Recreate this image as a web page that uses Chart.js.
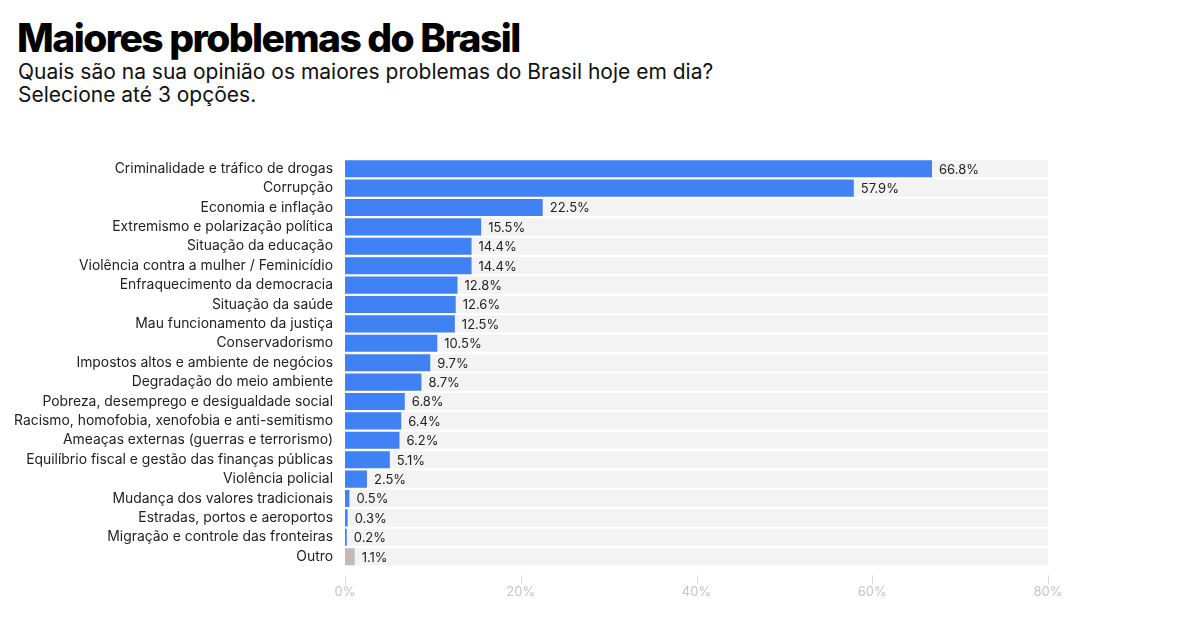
<!DOCTYPE html>
<html lang="pt-BR">
<head>
<meta charset="utf-8">
<title>Maiores problemas do Brasil</title>
<script src="https://cdn.jsdelivr.net/npm/chart.js@4"></script>
<style>
    html, body { margin: 0; padding: 0; background: #fff; }
    #wrap { position: relative; width: 1200px; height: 621px; overflow: hidden; font-family: Inter, sans-serif; }
    #title { position: absolute; left: 17px; top: 15px; font-size: 39px; font-weight: 800; letter-spacing: -1.55px; color: #000; line-height: 46px; }
    #subtitle { position: absolute; left: 18px; top: 60px; font-size: 21px; color: #111; line-height: 23px; }
    #chart { position: absolute; left: 0; top: 0; }
</style>
</head>
<body>
<div id="wrap">
    <div id="title">Maiores problemas do Brasil</div>
    <div id="subtitle">Quais são na sua opinião os maiores problemas do Brasil hoje em dia?<br>Selecione até 3 opções.</div>
    <canvas id="chart" width="1200" height="621"></canvas>
</div>
<script>
const categories = [
    'Criminalidade e tráfico de drogas',
    'Corrupção',
    'Economia e inflação',
    'Extremismo e polarização política',
    'Situação da educação',
    'Violência contra a mulher / Feminicídio',
    'Enfraquecimento da democracia',
    'Situação da saúde',
    'Mau funcionamento da justiça',
    'Conservadorismo',
    'Impostos altos e ambiente de negócios',
    'Degradação do meio ambiente',
    'Pobreza, desemprego e desigualdade social',
    'Racismo, homofobia, xenofobia e anti-semitismo',
    'Ameaças externas (guerras e terrorismo)',
    'Equilíbrio fiscal e gestão das finanças públicas',
    'Violência policial',
    'Mudança dos valores tradicionais',
    'Estradas, portos e aeroportos',
    'Migração e controle das fronteiras',
    'Outro'
];
const shares = [66.8, 57.9, 22.5, 15.5, 14.4, 14.4, 12.8, 12.6, 12.5, 10.5, 9.7, 8.7, 6.8, 6.4, 6.2, 5.1, 2.5, 0.5, 0.3, 0.2, 1.1];
const xTicks = [0, 20, 40, 60, 80];
const axisMax = 80;

const BLUE = '#4081f3';
const OTHER = '#c5b9b5';
const barColors = categories.map(c => c === 'Outro' ? OTHER : BLUE);

// value labels at the end of each bar
const valueLabels = {
    id: 'valueLabels',
    afterDatasetsDraw(chart) {
        const { ctx } = chart;
        const meta = chart.getDatasetMeta(1);
        ctx.save();
        ctx.font = '13px Inter, sans-serif';
        ctx.fillStyle = '#222';
        ctx.textBaseline = 'middle';
        meta.data.forEach((bar, i) => {
            ctx.fillText(shares[i].toFixed(1) + '%', bar.x + 7, bar.y + 1);
        });
        ctx.restore();
    }
};

// tick marks sit a little below the plot
const axisTicks = {
    id: 'axisTicks',
    afterDraw(chart) {
        const { ctx } = chart;
        const x = chart.scales.x;
        const bottom = chart.chartArea.bottom;
        ctx.save();
        ctx.strokeStyle = '#d9d9d9';
        ctx.lineWidth = 1;
        xTicks.forEach(t => {
            const px = Math.round(x.getPixelForValue(t)) + 0.5;
            ctx.beginPath();
            ctx.moveTo(px, bottom + 9);
            ctx.lineTo(px, bottom + 18);
            ctx.stroke();
        });
        ctx.restore();
    }
};

new Chart(document.getElementById('chart'), {
    type: 'bar',
    data: {
        labels: categories,
        datasets: [
            {
                label: 'track',
                data: categories.map(() => axisMax),
                backgroundColor: '#f3f3f3',
                grouped: false,
                order: 1,
                barPercentage: 0.88,
                categoryPercentage: 1
            },
            {
                label: 'Share',
                data: shares,
                backgroundColor: barColors,
                grouped: false,
                order: 0,
                barPercentage: 0.88,
                categoryPercentage: 1
            }
        ]
    },
    options: {
        indexAxis: 'y',
        responsive: false,
        animation: false,
        layout: { padding: { top: 159, right: 152, left: 0, bottom: 11 } },
        plugins: {
            legend: { display: false },
            tooltip: { enabled: false }
        },
        scales: {
            x: {
                min: 0,
                max: axisMax,
                afterBuildTicks(scale) { scale.ticks = xTicks.map(v => ({ value: v })); },
                grid: { display: false },
                border: { display: false },
                ticks: {
                    padding: 10,
                    color: '#c4c4c4',
                    font: { family: 'Inter, sans-serif', size: 13 },
                    callback: v => v + '%'
                }
            },
            y: {
                afterFit(scale) { scale.width = 345; },
                grid: { display: false },
                border: { display: false },
                ticks: {
                    padding: 4,
                    color: '#222',
                    autoSkip: false,
                    font: { family: 'Inter, sans-serif', size: 13.9 }
                }
            }
        }
    },
    plugins: [valueLabels, axisTicks]
});
</script>
</body>
</html>
